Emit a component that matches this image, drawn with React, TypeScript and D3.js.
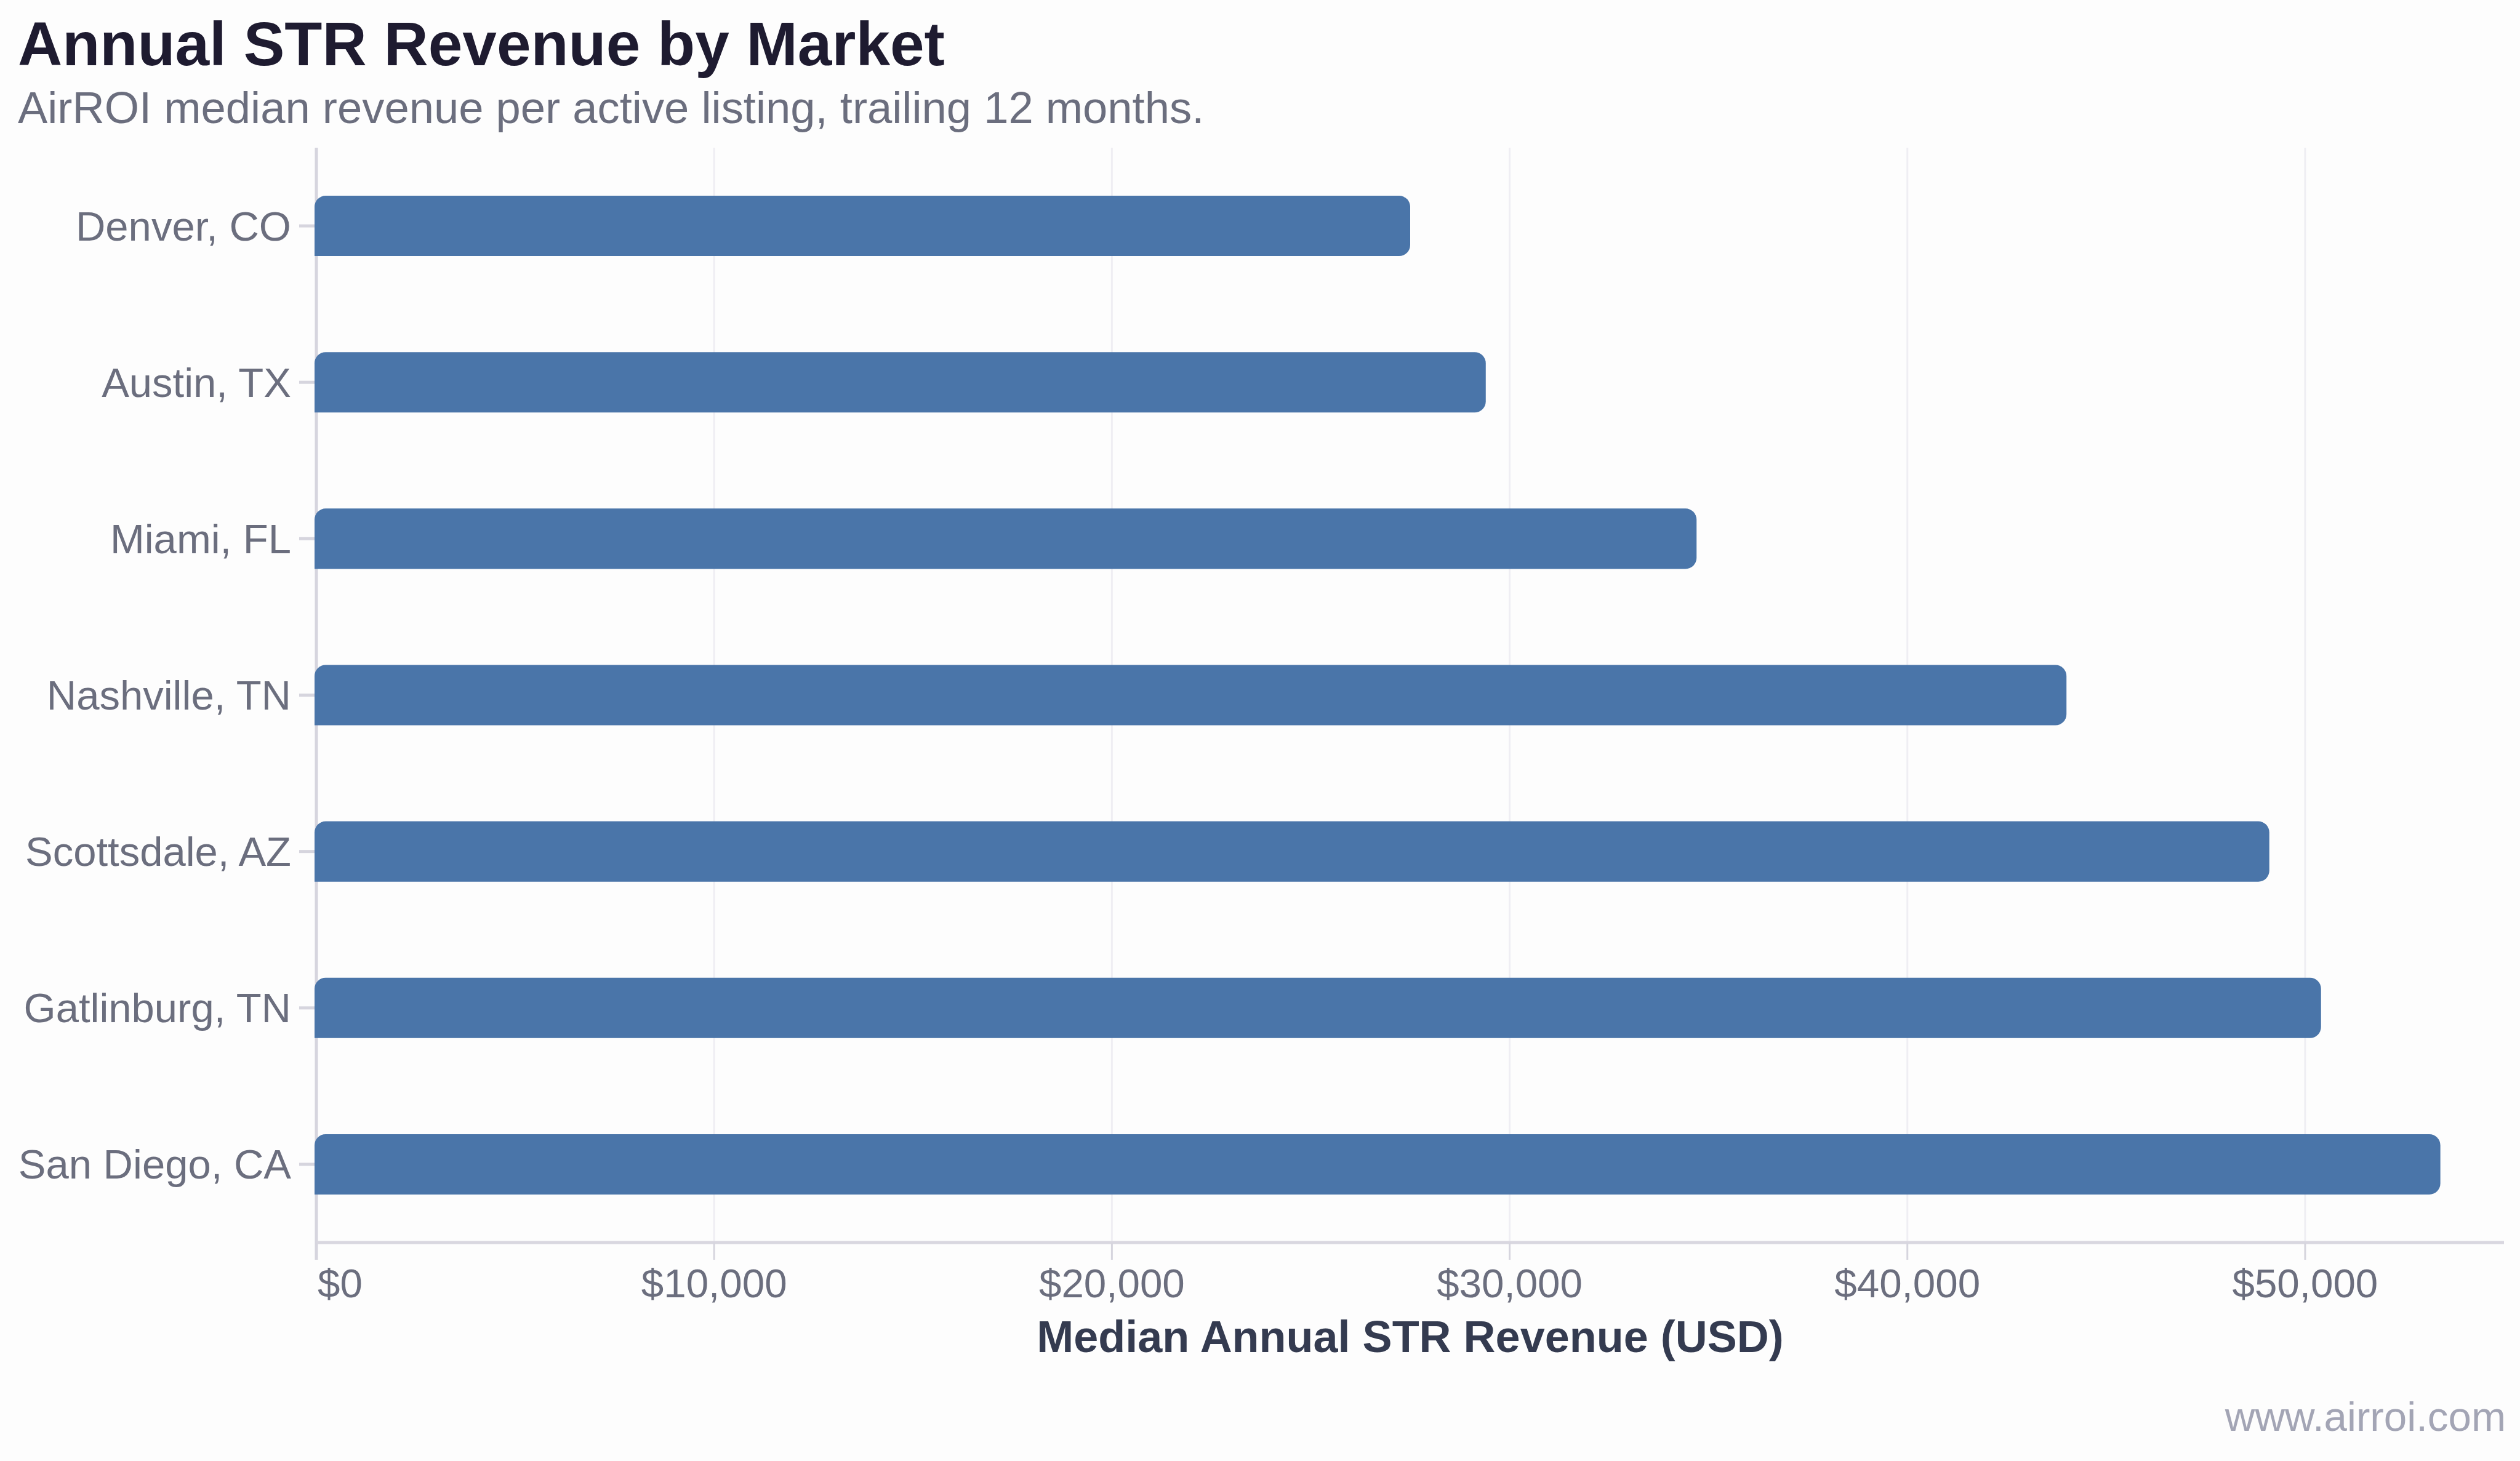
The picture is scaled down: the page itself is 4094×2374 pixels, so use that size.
import React, { useEffect, useRef } from 'react'
import * as d3 from 'd3'

const markets = ['Denver, CO', 'Austin, TX', 'Miami, FL', 'Nashville, TN', 'Scottsdale, AZ', 'Gatlinburg, TN', 'San Diego, CA']
const revenue = [27500, 29400, 34700, 44000, 49100, 50400, 53400]
const xTicks = [0, 10000, 20000, 30000, 40000, 50000]

const W = 4094
const H = 2374
const FONT = '"Liberation Sans", Arial, Helvetica, sans-serif'

// bar with rounded corners everywhere except bottom-left
function barPath(x0: number, x1: number, y0: number, y1: number, r: number) {
  return `M${x0},${y1}L${x0},${y0 + r}A${r},${r} 0 0 1 ${x0 + r},${y0}` +
    `L${x1 - r},${y0}A${r},${r} 0 0 1 ${x1},${y0 + r}` +
    `L${x1},${y1 - r}A${r},${r} 0 0 1 ${x1 - r},${y1}Z`
}

export default function App() {
  const ref = useRef<SVGSVGElement>(null)

  useEffect(() => {
    const svg = d3.select(ref.current)
    svg.selectAll('*').remove()

    const top = 240, bottom = 2019, left = 514, right = 4068

    const x = d3.scaleLinear().domain([0, 55000]).range([left, right])
    const y = d3.scaleBand<string>().domain(markets).range([top, bottom])
      .paddingInner(0.614).paddingOuter(0.307)

    svg.append('rect').attr('width', W).attr('height', H).attr('fill', '#fdfdfd')

    // vertical gridlines
    svg.append('g').selectAll('line')
      .data(xTicks.filter(d => d > 0))
      .enter().append('line')
      .attr('x1', d => x(d)).attr('x2', d => x(d))
      .attr('y1', top).attr('y2', bottom)
      .attr('stroke', '#efeef3').attr('stroke-width', 3)

    // axis lines
    svg.append('line')
      .attr('x1', left).attr('x2', left).attr('y1', top).attr('y2', bottom + 28)
      .attr('stroke', '#d6d5de').attr('stroke-width', 5)
    svg.append('line')
      .attr('x1', left).attr('x2', right).attr('y1', bottom).attr('y2', bottom)
      .attr('stroke', '#d9d7e0').attr('stroke-width', 5)

    // x ticks + labels
    const xt = svg.append('g').selectAll('g')
      .data(xTicks)
      .enter().append('g')
      .attr('transform', d => `translate(${x(d)},0)`)
    xt.append('line')
      .attr('y1', bottom).attr('y2', bottom + 28)
      .attr('stroke', '#d6d5de').attr('stroke-width', 3)
    xt.append('text')
      .attr('x', d => (d === 0 ? 2 : 0))
      .attr('y', 2108)
      .attr('text-anchor', d => (d === 0 ? 'start' : 'middle'))
      .attr('font-size', 65.5)
      .attr('fill', '#6b6e7e')
      .text(d => '$' + d3.format(',')(d))

    // y ticks + labels
    const yt = svg.append('g').selectAll('g')
      .data(markets)
      .enter().append('g')
      .attr('transform', d => `translate(0,${(y(d) as number) + y.bandwidth() / 2})`)
    yt.append('line')
      .attr('x1', left - 28).attr('x2', left)
      .attr('stroke', '#d6d5de').attr('stroke-width', 5)
    yt.append('text')
      .attr('x', 473)
      .attr('dy', '0.35em')
      .attr('text-anchor', 'end')
      .attr('font-size', 67)
      .attr('fill', '#6b6e7e')
      .text(d => d)

    // bars
    svg.append('g').selectAll('path')
      .data(markets)
      .enter().append('path')
      .attr('d', (d, i) => {
        const y0 = y(d) as number
        return barPath(x(0) - 3, x(revenue[i]), y0, y0 + y.bandwidth(), 18)
      })
      .attr('fill', '#4a75a9')

    // titles
    svg.append('text')
      .attr('x', 29).attr('y', 106)
      .attr('font-size', 100).attr('font-weight', 'bold')
      .attr('fill', '#1e1b30')
      .text('Annual STR Revenue by Market')
    svg.append('text')
      .attr('x', 29).attr('y', 200)
      .attr('font-size', 72.4)
      .attr('fill', '#6b6e7e')
      .text('AirROI median revenue per active listing, trailing 12 months.')

    svg.append('text')
      .attr('x', (left + right) / 2).attr('y', 2197)
      .attr('text-anchor', 'middle')
      .attr('font-size', 72).attr('font-weight', 'bold')
      .attr('fill', '#343b50')
      .text('Median Annual STR Revenue (USD)')

    svg.append('text')
      .attr('x', 4071).attr('y', 2325)
      .attr('text-anchor', 'end')
      .attr('font-size', 67.3)
      .attr('fill', '#a3a5b5')
      .text('www.airroi.com')
  }, [])

  return (
    <div style={{ position: 'absolute', left: 0, top: 0 }}>
      <svg ref={ref} width={W} height={H} style={{ display: 'block', fontFamily: FONT }} />
    </div>
  )
}
